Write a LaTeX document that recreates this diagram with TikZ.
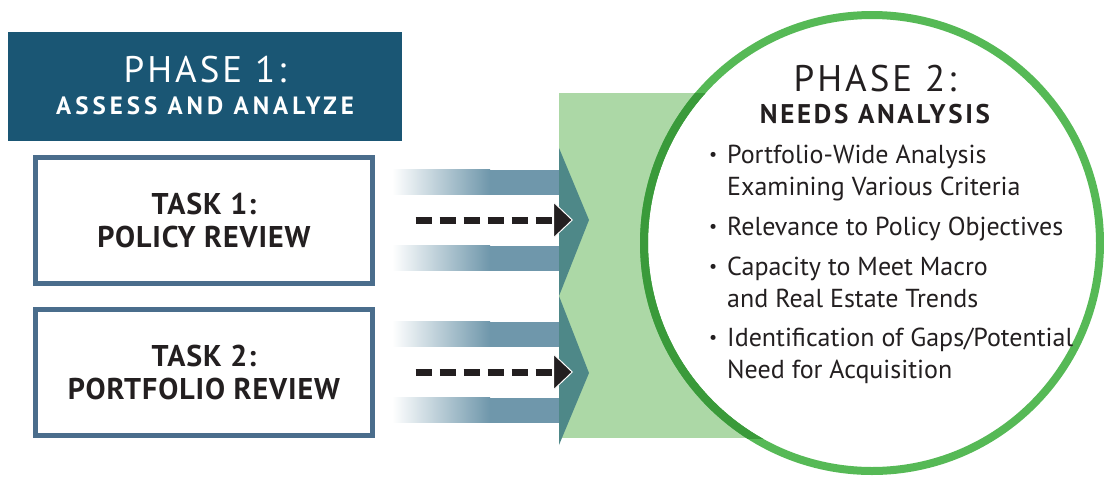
\documentclass[tikz,border=0pt]{standalone}
\usepackage{fontspec}
\setmainfont{PT Sans}
\newfontfamily\phasefont[LetterSpace=8]{PT Sans}
\newfontfamily\assessfont[LetterSpace=16]{PT Sans}
\newfontfamily\needsfont[LetterSpace=10]{PT Sans}
\newfontfamily\taskfont[LetterSpace=3]{PT Sans}
\usepackage{xcolor}
\usepackage{tikz}
\usetikzlibrary{arrows.meta}
\usetikzlibrary{positioning}
\usetikzlibrary{calc}

\definecolor{phaseblue}{HTML}{1A5674}
\definecolor{taskblue}{HTML}{4A6D8C}
\definecolor{barblue}{HTML}{6F97AB}
\definecolor{chevteal}{HTML}{4E8888}
\definecolor{panelgreen}{HTML}{ACD8A6}
\definecolor{ringgreen}{HTML}{56B956}
\definecolor{ringdark}{HTML}{3A9A3A}
\definecolor{inkdark}{HTML}{231F20}

\tikzset{
  taskbox/.style={rectangle,draw=taskblue,line width=5pt,fill=white,
    minimum width=337pt,minimum height=126pt,align=center,text=inkdark,
    font=\taskfont\fontsize{30}{33}\selectfont\bfseries},
  phasebox/.style={rectangle,fill=phaseblue,minimum width=394pt,minimum height=109pt},
  panelbox/.style={rectangle,fill=panelgreen,inner sep=0pt,anchor=north west},
  flowarrow/.style={line width=7pt,inkdark,dash pattern=on 16pt off 8pt,
    -{Triangle[length=20pt,width=38pt,fill=inkdark,color=white,line width=1pt]}},
  item/.style={anchor=base west,inner sep=0pt,text=inkdark,align=left,
    font=\fontsize{26}{32}\selectfont},
}

\newcommand{\itembullet}{\llap{\raisebox{0.2ex}{\fontsize{18}{18}\selectfont\textbullet}\hspace{10pt}}}

\begin{document}
\begin{tikzpicture}[x=1pt,y=-1pt]
  \useasboundingbox (0,0) rectangle (1104,483);

  % green panel and the two chevrons on its left edge
  \node[panelbox,minimum width=313pt,minimum height=345pt] (panel) at (559,93) {};
  \fill[chevteal] (559,148) -- (589,220) -- (559,296) -- (589,373) -- (559,445) -- cycle;

  % task boxes
  \node[taskbox] (task1) at (204,220) {TASK 1:\\POLICY REVIEW};
  \node[taskbox] (task2) at (204,372) {TASK 2:\\PORTFOLIO REVIEW};

  % fading bars beside each arrow
  \foreach \y in {220,372} {
    \shade[left color=white,right color=barblue] (392,{\y-50.5}) rectangle (490,{\y-25.5});
    \fill[barblue] (490,{\y-50.5}) rectangle (559,{\y-25.5});
    \shade[left color=white,right color=barblue] (392,{\y+25.5}) rectangle (490,{\y+50.5});
    \fill[barblue] (490,{\y+25.5}) rectangle (559,{\y+50.5});
  }

  \coordinate (tip1) at (573,220);
  \coordinate (tip2) at (573,372);
  \draw[flowarrow] ([xshift=40.5pt]task1.east) -- (tip1);
  \draw[flowarrow] ([xshift=40.5pt]task2.east) -- (tip2);

  % phase 2 circle
  \node[circle,fill=white,minimum size=448pt,inner sep=0pt] (phase2) at (872,243) {};
  \draw[ringgreen,line width=8pt] (phase2.center) circle (228);
  \begin{scope}
    \clip (panel.north west) rectangle (panel.south east);
    \draw[ringdark,line width=8pt] (phase2.center) circle (228);
  \end{scope}

  \node[anchor=base,inner sep=0pt,text=inkdark,font=\phasefont\fontsize{37}{40}\selectfont]
    (p2title) at (875,91) {PHASE 2:};
  \node[anchor=base,inner sep=0pt,text=inkdark,font=\needsfont\fontsize{27}{30}\selectfont\bfseries]
    (p2sub) at (875,123) {NEEDS ANALYSIS};

  % base of a two-line item is the baseline of its last line
  \node[item] (b1) at (727,195) {\itembullet Portfolio-Wide Analysis\\Examining Various Criteria};
  \node[item] (b2) at (727,235) {\itembullet Relevance to Policy Objectives};
  \node[item] (b3) at (727,307) {\itembullet Capacity to Meet Macro\\and Real Estate Trends};
  \node[item] (b4) at (727,378) {\itembullet Identification of Gaps/Potential\\Need for Acquisition};

  % phase 1 header
  \node[phasebox] (phase1) at (205,86.5) {};
  \node[anchor=base,inner sep=0pt,text=white,font=\phasefont\fontsize{37}{40}\selectfont]
    (p1title) at (205,82) {PHASE 1:};
  \node[anchor=base,inner sep=0pt,text=white,font=\assessfont\fontsize{25}{28}\selectfont\bfseries]
    (p1sub) at (205,114) {ASSESS AND ANALYZE};
\end{tikzpicture}
\end{document}
